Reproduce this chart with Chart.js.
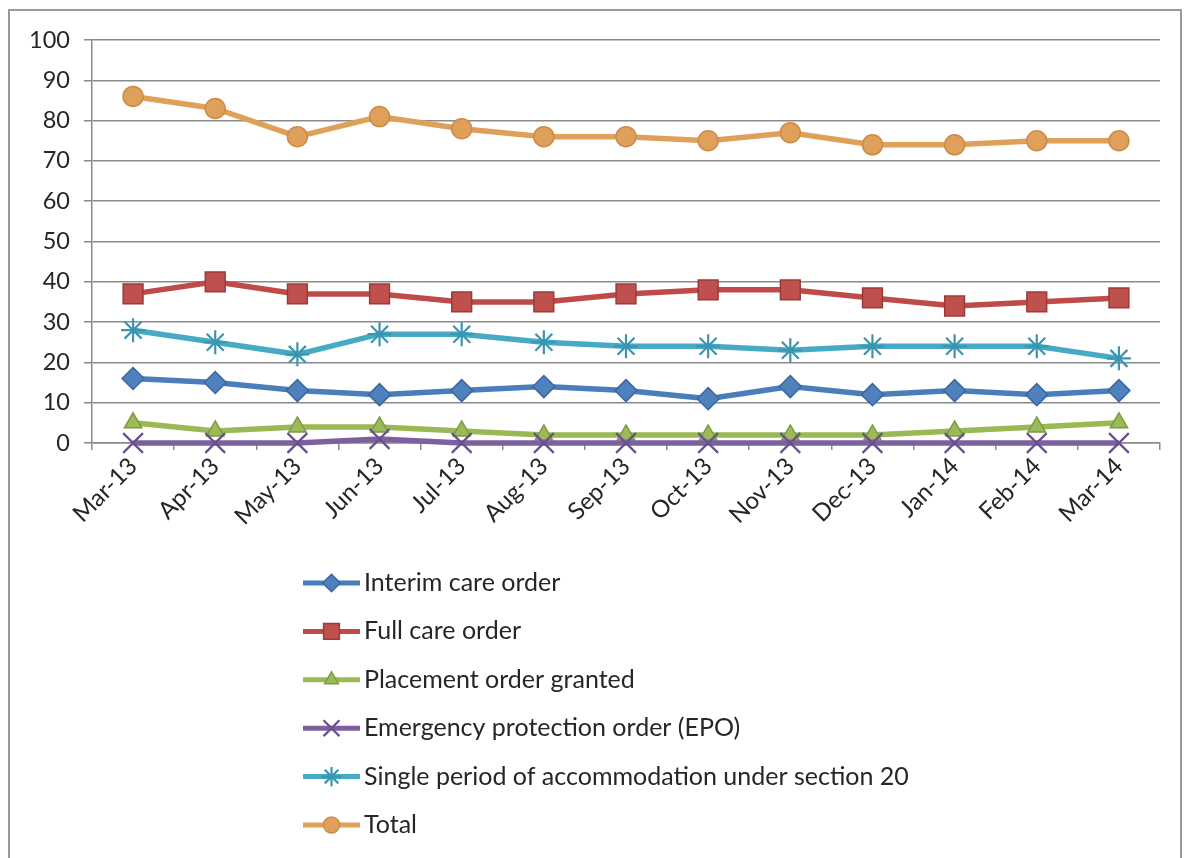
<!DOCTYPE html>
<html>
<head>
<meta charset="utf-8">
<script src="https://cdn.jsdelivr.net/npm/chart.js@4.4.1/dist/chart.umd.min.js"></script>
<style>
  html, body { margin: 0; padding: 0; background: #ffffff; }
  #wrap { position: relative; width: 1186px; height: 858px; }
</style>
</head>
<body>
<div id="wrap"><canvas id="chart" width="1186" height="858"></canvas></div>
<script>
// Months on the category axis
const months = ['Mar-13', 'Apr-13', 'May-13', 'Jun-13', 'Jul-13', 'Aug-13', 'Sep-13',
                'Oct-13', 'Nov-13', 'Dec-13', 'Jan-14', 'Feb-14', 'Mar-14'];

// Monthly counts per order type
const interimCare   = [16, 15, 13, 12, 13, 14, 13, 11, 14, 12, 13, 12, 13];
const fullCare      = [37, 40, 37, 37, 35, 35, 37, 38, 38, 36, 34, 35, 36];
const placement     = [5, 3, 4, 4, 3, 2, 2, 2, 2, 2, 3, 4, 5];
const emergencyEPO  = [0, 0, 0, 1, 0, 0, 0, 0, 0, 0, 0, 0, 0];
const section20     = [28, 25, 22, 27, 27, 25, 24, 24, 23, 24, 24, 24, 21];
const totalOrders   = [86, 83, 76, 81, 78, 76, 76, 75, 77, 74, 74, 75, 75];

// Series names
const seriesNames = [
  'Interim care order',
  'Full care order',
  'Placement order granted',
  'Emergency protection order (EPO)',
  'Single period of accommodation under section 20',
  'Total'
];

// Value axis
const yMin = 0, yMax = 100, yStep = 10;

const FONT = 'Lato, "Noto Sans", sans-serif';

const seriesStyle = [
  { line: '#4a7ebb', fill: '#4f81bd', edge: '#3c67a0', point: 'rectRot',  r: 11, bw: 1.5 },
  { line: '#be4b48', fill: '#c0504d', edge: '#9a3b39', point: 'rect',     r: 14, bw: 1.5 },
  { line: '#98b954', fill: '#9bbb59', edge: '#7c9a44', point: 'triangle', r: 10, bw: 1.5 },
  { line: '#7d60a0', fill: '#7d60a0', edge: '#6a4f8e', point: 'crossRot', r: 14, bw: 2.2 },
  { line: '#46aac5', fill: '#4bacc6', edge: '#3a95b0', point: 'star',     r: 12, bw: 2.2 },
  { line: '#dfa05a', fill: '#dfa05c', edge: '#cc8c47', point: 'circle',   r: 10, bw: 1.5 }
];

const seriesData = [interimCare, fullCare, placement, emergencyEPO, section20, totalOrders];

const datasets = seriesData.map((values, i) => {
  const s = seriesStyle[i];
  return {
    label: seriesNames[i],
    data: values,
    borderColor: s.line,
    backgroundColor: s.fill,
    borderWidth: 5.5,
    tension: 0,
    clip: false,
    pointStyle: s.point,
    pointRadius: s.r,
    pointHoverRadius: s.r,
    pointBackgroundColor: s.fill,
    pointBorderColor: s.edge,
    pointBorderWidth: s.bw,
    order: 10 - i
  };
});

// Outer frame around the whole figure
const framePlugin = {
  id: 'frame',
  beforeDraw(chart) {
    const ctx = chart.ctx;
    ctx.save();
    ctx.fillStyle = '#ffffff';
    ctx.fillRect(0, 0, chart.width, chart.height);
    ctx.strokeStyle = '#9a9a9a';
    ctx.lineWidth = 2;
    ctx.strokeRect(9, 10, 1172, 860);
    ctx.restore();
  }
};

// Vertical legend: short line with marker, then the series name
const stackedLegend = {
  id: 'stackedLegend',
  afterDraw(chart) {
    const ctx = chart.ctx;
    const x0 = 303, x1 = 360, textX = 364;
    const yStart = 583, rowGap = 48.4;
    ctx.save();
    chart.data.datasets.forEach((ds, i) => {
      const y = yStart + i * rowGap;
      const s = seriesStyle[i];
      ctx.strokeStyle = s.line;
      ctx.lineWidth = 5;
      ctx.beginPath();
      ctx.moveTo(x0, y);
      ctx.lineTo(x1, y);
      ctx.stroke();
      ctx.fillStyle = s.fill;
      ctx.strokeStyle = s.edge;
      ctx.lineWidth = s.bw;
      Chart.helpers.drawPoint(ctx, {
        pointStyle: s.point,
        radius: s.r * 0.8,
        rotation: 0,
        borderWidth: s.bw
      }, (x0 + x1) / 2, y);
      ctx.fillStyle = '#262626';
      ctx.font = '25px ' + FONT;
      ctx.textBaseline = 'middle';
      ctx.textAlign = 'left';
      ctx.fillText(ds.label, textX, y);
    });
    ctx.restore();
  }
};

new Chart(document.getElementById('chart'), {
  type: 'line',
  data: { labels: months, datasets },
  options: {
    responsive: false,
    animation: false,
    devicePixelRatio: 1,
    layout: { padding: { left: 0, top: 40, right: 26, bottom: 0 } },
    plugins: {
      legend: { display: false },
      tooltip: { enabled: false }
    },
    scales: {
      x: {
        offset: true,
        grid: {
          display: true,
          offset: true,
          drawOnChartArea: false,
          drawTicks: true,
          tickLength: 7,
          color: '#8a8a8a',
          lineWidth: 1.5
        },
        border: { display: true, color: '#8a8a8a', width: 1.5 },
        ticks: {
          autoSkip: false,
          minRotation: 45,
          maxRotation: 45,
          padding: 2,
          color: '#262626',
          font: { family: FONT, size: 24 }
        },
        afterFit(scale) { scale.height = 415; }
      },
      y: {
        min: yMin,
        max: yMax,
        ticks: {
          stepSize: yStep,
          padding: 14,
          color: '#262626',
          font: { family: FONT, size: 23.5 }
        },
        grid: {
          color: '#8a8a8a',
          lineWidth: 1.5,
          tickLength: 8,
          drawTicks: true
        },
        border: { display: true, color: '#8a8a8a', width: 1.5 },
        afterFit(scale) { scale.width = 92; }
      }
    }
  },
  plugins: [framePlugin, stackedLegend]
});
</script>
</body>
</html>
